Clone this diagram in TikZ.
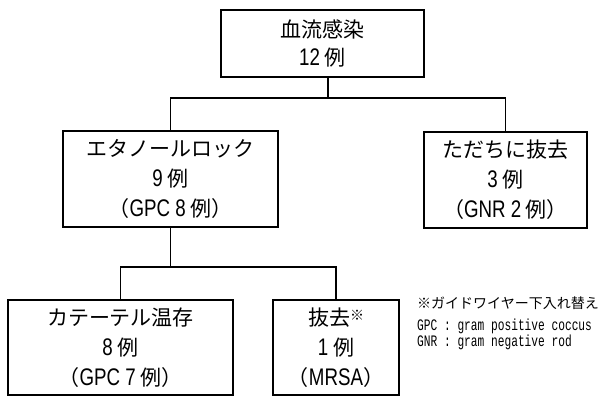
\documentclass[tikz,border=0pt]{standalone}
\usepackage{fontspec}
\newfontfamily\jp{Noto Sans CJK JP}
\newfontfamily\latfnt{Liberation Sans}
\newfontfamily\monofnt{Liberation Mono}
\newcommand{\lt}[1]{\scalebox{0.78}[1]{\latfnt\fontsize{24}{30}\selectfont #1}}
\begin{document}
\begin{tikzpicture}[x=1pt,y=-1pt,
  box/.style={draw, line width=1.8pt, inner sep=0pt, align=center, font=\jp\fontsize{21}{30}\selectfont},
  link/.style={line width=1.8pt},
  note/.style={anchor=west, inner sep=0pt}]
\useasboundingbox (0,0) rectangle (611,398);
\node[box, minimum width=203pt, minimum height=67pt, font=\jp\fontsize{21}{28}\selectfont] (top) at (322.5,43.5) {血流感染\\\lt{12} 例};
\node[box, minimum width=215pt, minimum height=96pt] (etl) at (170.5,179) {エタノールロック\\\lt{9} 例\\（\lt{GPC 8} 例）};
\node[box, minimum width=163pt, minimum height=96pt] (imm) at (505.5,180) {ただちに抜去\\\lt{3} 例\\（\lt{GNR 2} 例）};
\node[box, minimum width=225pt, minimum height=95pt] (keep) at (120.5,347.5) {カテーテル温存\\\lt{8} 例\\（\lt{GPC 7} 例）};
\node[box, minimum width=126pt, minimum height=95pt] (rem) at (336,347.5) {抜去{\fontsize{14}{14}\selectfont\raisebox{5pt}{※}}\\\lt{1} 例\\（\lt{MRSA}）};
\coordinate (j1) at (328,98);
\coordinate (y2) at (0,267);
\coordinate (j2) at (etl.south |- y2);
\draw[link] (j1 |- top.south) -- (j1);
\draw[link] (etl.north) |- (j1) -| (imm.north);
\draw[link] (etl.south) -- (j2);
\draw[link] (keep.north) |- (j2) -| (rem.north);
\node[note, font=\jp\fontsize{14}{14}\selectfont] (n1) at (417,303) {※ガイドワイヤー下入れ替え};
\node[note, font=\monofnt\fontsize{16}{16}\selectfont] (n2) at (417,326) {\scalebox{0.7}[1]{GPC : gram positive coccus}};
\node[note, font=\monofnt\fontsize{16}{16}\selectfont] (n3) at (417,342) {\scalebox{0.7}[1]{GNR : gram negative rod}};
\end{tikzpicture}
\end{document}
